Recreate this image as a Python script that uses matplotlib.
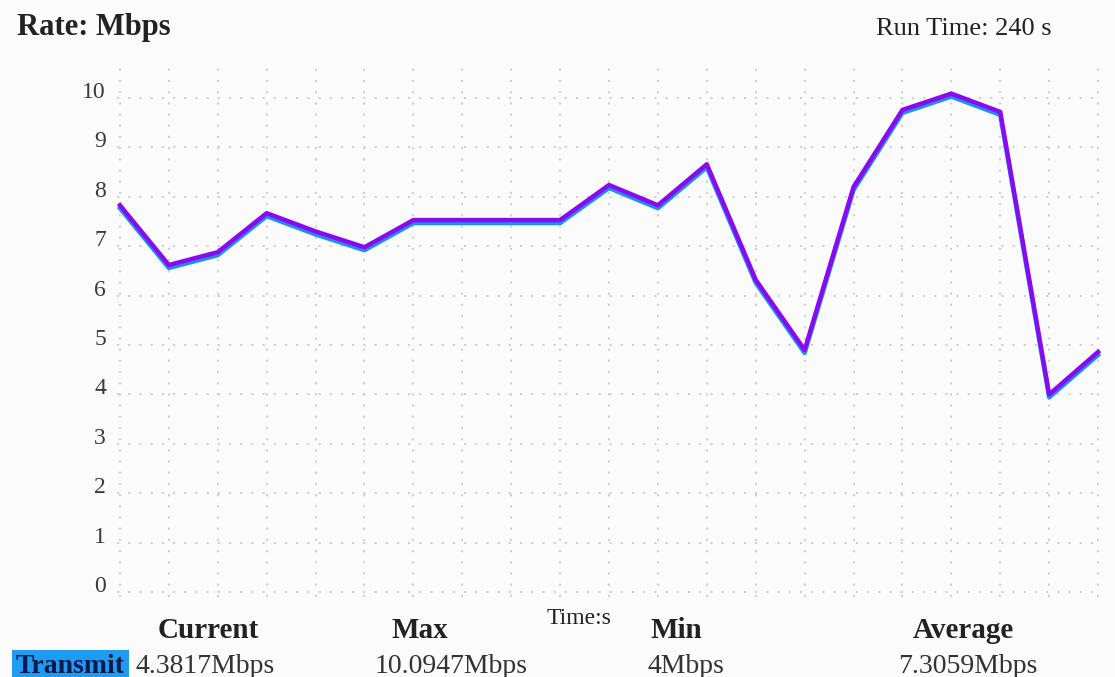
import matplotlib
matplotlib.use('Agg')
import matplotlib.pyplot as plt
import matplotlib.transforms as mtransforms
import numpy as np

# data
times = np.arange(0, 241, 12)
rate = [7.83, 6.62, 6.88, 7.67, 7.30, 6.98, 7.53, 7.53, 7.53, 7.53, 8.24,
        7.83, 8.66, 6.32, 4.90, 8.20, 9.76, 10.09, 9.72, 4.00, 4.86]
y_ticks = list(range(0, 11))
stats_names = ['Current', 'Max', 'Min', 'Average']
stats_values = ['4.3817Mbps', '10.0947Mbps', '4Mbps', '7.3059Mbps']

plt.rcParams['font.family'] = ['Liberation Serif', 'DejaVu Serif']

fig = plt.figure(figsize=(11.15, 6.77), dpi=100)
fig.patch.set_facecolor('#fbfbfb')

W, H = 1115, 677
ax = fig.add_axes([117 / W, 1 - 597 / H, (1101 - 117) / W, (597 - 60) / H])
ax.set_facecolor('#fbfbfb')
ax.set_xlim(-0.72, 240.72)
ax.set_ylim(-0.1, 10.77)

ax.set_xticks(times)
ax.set_yticks(y_ticks)
ax.grid(True, linestyle=(0, (1.2, 5)), color='#cccccc', linewidth=1.3)
for s in ax.spines.values():
    s.set_visible(False)
ax.tick_params(length=0, labelbottom=False)
ax.tick_params(axis='y', labelsize=17, pad=8, colors='#3a3a3a')
for lbl in ax.get_yticklabels():
    lbl.set_transform(lbl.get_transform() + mtransforms.ScaledTranslation(0, 8 / 100, fig.dpi_scale_trans))

# blue shadow under the purple line
shadow = mtransforms.offset_copy(ax.transData, fig=fig, x=0, y=-3, units='dots')
ax.plot(times, rate, color='#1e8ff0', linewidth=3.2, transform=shadow, solid_joinstyle='round')
ax.plot(times, rate, color='#8a0af0', linewidth=3.2, solid_joinstyle='round')

fig.text(17 / W, 1 - 28 / H, 'Rate: Mbps', fontsize=22, fontweight='bold',
         color='#222222', va='center', ha='left')
fig.text(1052 / W, 1 - 29 / H, 'Run Time: 240 s', fontsize=19,
         color='#222222', va='center', ha='right')
fig.text(579 / W, 1 - 619 / H, 'Time:s', fontsize=17, color='#222222',
         va='center', ha='center')

name_x = [208, 420, 676, 963]
val_x = [135, 375, 648, 898]
for nx, vx, n, v in zip(name_x, val_x, stats_names, stats_values):
    fig.text(nx / W, 1 - 630 / H, n, fontsize=21, fontweight='bold',
             color='#222222', va='center', ha='center')
    fig.text(vx / W, 4 / H, v, fontsize=20, color='#333333',
             va='baseline', ha='left')

fig.text(16 / W, 4 / H, 'Transmit', fontsize=20, fontweight='bold',
         color='#0a1a50', va='baseline', ha='left',
         bbox=dict(boxstyle='square,pad=0.15', facecolor='#1f9bef', edgecolor='none'))

fig.savefig('out.png', dpi=100, facecolor=fig.get_facecolor())
